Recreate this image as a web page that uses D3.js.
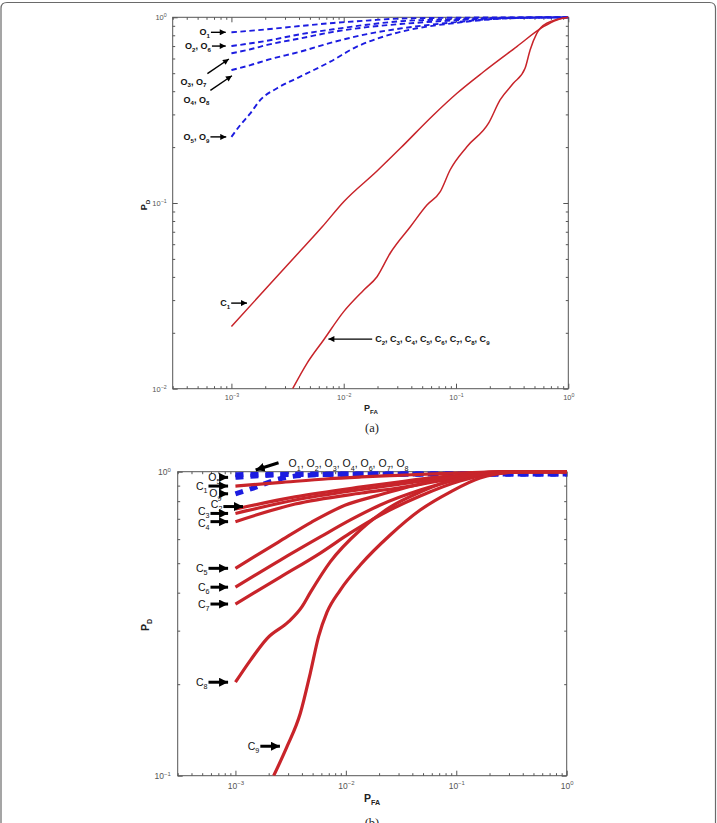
<!DOCTYPE html>
<html lang="en">
<head>
<meta charset="UTF-8">
<title>ROC curves (a) and (b)</title>
<script src="https://d3js.org/d3.v7.min.js"></script>
<style>
  body { margin: 0; background: #fff; }
  svg { font-family: Arial, "Liberation Sans", sans-serif; }
  .frame { fill: none; stroke: #6a6a6a; stroke-width: 1.2; }
  .box { fill: none; stroke: #555; stroke-width: 1; }
  .tick line { stroke: #555; }
  .caption { font-family: "Liberation Serif", "Times New Roman", serif; font-size: 12.5px; fill: #222; }
</style>
</head>
<body>
<svg id="chart" width="717" height="823"></svg>
<script>
// ---- data ----
const pfaDomain = [3e-4, 1];
const pfaTicks = [1e-3, 1e-2, 1e-1, 1];
const topPdTicks = [1e-2, 1e-1, 1];
const botPdTicks = [1e-1, 1];

// panel (a): [P_FA, P_D]
const aO1 = [[1e-3,0.83],[2.08e-3,0.862],[4.1e-3,0.898],[8.07e-3,0.932],[0.0161,0.96],[0.0319,0.985],[0.089,0.994],[0.3,0.999],[1,1]];
const aO2 = [[1e-3,0.70],[2.08e-3,0.748],[4.1e-3,0.81],[8.07e-3,0.862],[0.0161,0.912],[0.0319,0.952],[0.089,0.975],[0.3,0.996],[1,1]];
const aO3 = [[1e-3,0.64],[1.48e-3,0.673],[2.08e-3,0.71],[4.1e-3,0.77],[8.07e-3,0.835],[0.0161,0.885],[0.0319,0.92],[0.089,0.96],[0.3,0.994],[1,1]];
const aO4 = [[1e-3,0.52],[1.48e-3,0.553],[2.08e-3,0.589],[4.1e-3,0.653],[8.07e-3,0.735],[0.0161,0.812],[0.0319,0.87],[0.089,0.935],[0.3,0.99],[1,1]];
const aO5 = [[1e-3,0.227],[1.2e-3,0.263],[1.48e-3,0.305],[1.81e-3,0.359],[2.55e-3,0.415],[4.1e-3,0.479],[7.6e-3,0.577],[0.0131,0.695],[0.0226,0.787],[0.045,0.873],[0.089,0.925],[0.3,0.988],[1,1]];
const aC1 = [[1e-3,0.0216],[2.38e-3,0.0385],[3.84e-3,0.0528],[6.41e-3,0.0742],[0.01,0.1016],[0.0198,0.1487],[0.0319,0.197],[0.063,0.298],[0.102,0.39],[0.176,0.509],[0.348,0.695],[0.601,0.89],[0.792,0.967],[1,1]];
const aC2 = [[3.51e-3,0.01],[4.71e-3,0.0137],[6.62e-3,0.0183],[0.01,0.026],[0.0151,0.034],[0.0198,0.0401],[0.026,0.0538],[0.0392,0.0745],[0.0551,0.0975],[0.0724,0.115],[0.0888,0.151],[0.125,0.201],[0.195,0.269],[0.247,0.359],[0.324,0.441],[0.412,0.531],[0.457,0.667],[0.524,0.82],[0.643,0.929],[1,1]];

// panel (b)
const bO = [[1e-3,0.978],[3e-3,0.98],[0.01,0.982],[0.1,0.983],[1,0.983]];
const bO5 = [[1e-3,0.958],[1.5e-3,0.968],[2.5e-3,0.977],[5e-3,0.981],[1,0.983]];
const bO9 = [[1e-3,0.846],[1.4e-3,0.88],[2.45e-3,0.945],[4e-3,0.972],[0.01,0.981],[1,0.983]];
const bC1 = [[1e-3,0.897],[2.45e-3,0.92],[6.9e-3,0.948],[0.0138,0.961],[0.0298,0.973],[0.0714,0.986],[0.164,0.996],[0.25,1],[1,1]];
const bC2 = [[1e-3,0.754],[3.47e-3,0.826],[0.0139,0.891],[0.0298,0.925],[0.0714,0.961],[0.202,0.99],[0.378,1],[1,1]];
const bC3 = [[1e-3,0.729],[3.47e-3,0.807],[0.0139,0.874],[0.0298,0.908],[0.0714,0.95],[0.202,0.986],[0.378,1],[1,1]];
const bC4 = [[1e-3,0.685],[3.47e-3,0.783],[0.0139,0.851],[0.0298,0.884],[0.0714,0.932],[0.202,0.983],[0.4,1],[1,1]];
const bC5 = [[1e-3,0.481],[2.45e-3,0.587],[4.9e-3,0.683],[9.8e-3,0.775],[0.0196,0.836],[0.0471,0.911],[0.108,0.968],[0.225,0.998],[0.4,1],[1,1]];
const bC6 = [[1e-3,0.417],[2.55e-3,0.512],[5.87e-3,0.61],[0.011,0.694],[0.0205,0.777],[0.0471,0.87],[0.108,0.946],[0.249,0.995],[0.4,1],[1,1]];
const bC7 = [[1e-3,0.367],[2.55e-3,0.45],[5.87e-3,0.54],[0.011,0.629],[0.0205,0.72],[0.0471,0.832],[0.108,0.932],[0.249,0.99],[0.4,1],[1,1]];
const bC8 = [[1e-3,0.203],[1.37e-3,0.24],[1.94e-3,0.283],[3.03e-3,0.321],[4.01e-3,0.36],[4.76e-3,0.4],[7.22e-3,0.505],[0.0135,0.643],[0.0252,0.765],[0.0471,0.857],[0.108,0.953],[0.249,0.994],[0.45,1],[1,1]];
const bC9 = [[2.22e-3,0.1],[2.93e-3,0.1246],[3.87e-3,0.1604],[4.76e-3,0.2172],[5.66e-3,0.2866],[6.75e-3,0.345],[8.9e-3,0.408],[0.0135,0.493],[0.0252,0.619],[0.0471,0.748],[0.0879,0.857],[0.164,0.953],[0.306,0.994],[0.5,1],[1,1]];

// ---- layout ----
const svg = d3.select("#chart");
svg.append("path").attr("class", "frame")
    .attr("d", "M1,830V8.5Q1,2.5 7,2.5H709.5Q715.5,2.5 715.5,8.5V830");

const defs = svg.append("defs");
function marker(id, w, h) {
    defs.append("marker").attr("id", id).attr("viewBox", "0 0 10 10")
        .attr("refX", 10).attr("refY", 5).attr("markerUnits", "userSpaceOnUse")
        .attr("markerWidth", w).attr("markerHeight", h).attr("orient", "auto")
        .append("path").attr("d", "M0,0L10,5L0,10z").attr("fill", "#000");
}
marker("headA", 7, 6);
marker("headB", 9, 9);

// text with _x / _{xy} subscripts
function rich(text, str, size) {
    const re = /_\{([^}]*)\}|_(.)|([^_]+)/g;
    let m, low = false;
    const sub = size * 0.3;
    while ((m = re.exec(str))) {
        if (m[3] !== undefined) {
            text.append("tspan").attr("dy", low ? -sub : 0).text(m[3]);
            low = false;
        } else {
            text.append("tspan").attr("dy", low ? 0 : sub).attr("font-size", size * 0.68).text(m[1] || m[2]);
            low = true;
        }
    }
}

function expLabel(sel, size) {
    sel.selectAll(".tick text").each(function(d) {
        const e = Math.round(Math.log10(d));
        const t = d3.select(this).text("10").attr("font-size", size).attr("fill", "#555");
        t.append("tspan").attr("dy", "-0.55em").attr("font-size", size * 0.7)
            .text(e < 0 ? "\u2212" + (-e) : String(e));
    });
}

function panel(cfg) {
    const x = d3.scaleLog().domain(pfaDomain).range([cfg.left, cfg.right]);
    const y = d3.scaleLog().domain([cfg.pdTicks[0], 1]).range([cfg.bottom, cfg.top]);
    const isMajor = v => Math.abs(Math.log10(v) - Math.round(Math.log10(v))) < 1e-9;
    const minorX = x.ticks().filter(v => !isMajor(v));
    const minorY = y.ticks().filter(v => !isMajor(v));
    const g = svg.append("g");

    const axes = [
        [d3.axisBottom(x), `translate(0,${cfg.bottom})`, minorX, pfaTicks, true],
        [d3.axisTop(x), `translate(0,${cfg.top})`, minorX, pfaTicks, false],
        [d3.axisLeft(y), `translate(${cfg.left},0)`, minorY, cfg.pdTicks, true],
        [d3.axisRight(y), `translate(${cfg.right},0)`, minorY, cfg.pdTicks, false]
    ];
    axes.forEach(([ax, tr, minor, major, labelled]) => {
        g.append("g").attr("transform", tr)
            .call(ax.tickValues(minor).tickSize(-2.5).tickFormat(""))
            .call(s => s.select(".domain").remove());
        const a = g.append("g").attr("transform", tr)
            .call(ax.tickValues(major).tickSize(-5).tickPadding(cfg.pad)
                .tickFormat(labelled ? d3.format("") : ""))
            .call(s => s.select(".domain").remove());
        if (labelled) expLabel(a, cfg.tickFont);
    });
    g.append("rect").attr("class", "box")
        .attr("x", cfg.left).attr("y", cfg.top)
        .attr("width", cfg.right - cfg.left).attr("height", cfg.bottom - cfg.top);

    const clipId = "clip" + cfg.name;
    defs.append("clipPath").attr("id", clipId).append("rect")
        .attr("x", cfg.left).attr("y", cfg.top - 3)
        .attr("width", cfg.right - cfg.left).attr("height", cfg.bottom - cfg.top + 3);

    const line = d3.line().x(d => x(d[0])).y(d => y(d[1])).curve(d3.curveMonotoneX);
    const plot = g.append("g").attr("clip-path", `url(#${clipId})`);
    cfg.series.forEach(s => {
        plot.append("path").datum(s.data)
            .attr("d", line)
            .attr("fill", "none")
            .attr("stroke", s.color)
            .attr("stroke-width", s.width)
            .attr("stroke-dasharray", s.dash || null)
            .attr("stroke-linejoin", "round");
    });

    // annotations: arrow from a pixel offset to a point given in data units
    cfg.notes.forEach(n => {
        const tx = x(n.tip[0]), ty = y(n.tip[1]);
        const sx = tx + n.tail[0], sy = ty + n.tail[1];
        const len = Math.hypot(tx - sx, ty - sy);
        const k = (len - cfg.head * 0.6) / len;
        g.append("line")
            .attr("x1", sx).attr("y1", sy)
            .attr("x2", sx + (tx - sx) * k).attr("y2", sy + (ty - sy) * k)
            .attr("stroke", "#000").attr("stroke-width", cfg.arrowWidth)
            .attr("marker-end", `url(#${cfg.marker})`);
        const lab = n.lab || [0, 0];
        const anchor = n.anchor || "end";
        const t = g.append("text")
            .attr("x", sx + lab[0] + (anchor === "end" ? -1 : 3))
            .attr("y", sy + lab[1] + cfg.noteFont * 0.35)
            .attr("text-anchor", anchor)
            .attr("font-size", cfg.noteFont)
            .attr("font-weight", cfg.noteWeight)
            .attr("fill", "#111");
        rich(t, n.label, cfg.noteFont);
    });

    // axis titles
    const ylab = g.append("text")
        .attr("transform", `translate(${cfg.pdPos[0]},${cfg.pdPos[1]}) rotate(-90)`)
        .attr("text-anchor", "middle").attr("font-size", cfg.titleFont)
        .attr("font-weight", "bold").attr("fill", "#222");
    rich(ylab, "P_D", cfg.titleFont);
    const xlab = g.append("text")
        .attr("x", cfg.pfaPos[0]).attr("y", cfg.pfaPos[1])
        .attr("font-size", cfg.titleFont).attr("font-weight", "bold").attr("fill", "#222");
    rich(xlab, "P_{FA}", cfg.titleFont);
    g.append("text").attr("class", "caption")
        .attr("x", cfg.capPos[0]).attr("y", cfg.capPos[1])
        .attr("text-anchor", "middle").text(cfg.caption);
}

const red = "#c8242a", blue = "#1c1ce0";

panel({
    name: "a", left: 172.7, right: 568.3, top: 17.3, bottom: 388.7,
    pdTicks: topPdTicks, pad: 6, tickFont: 7.5,
    series: [
        { data: aO1, color: blue, width: 1.9, dash: "5.5,3.5" },
        { data: aO2, color: blue, width: 1.9, dash: "5.5,3.5" },
        { data: aO3, color: blue, width: 1.9, dash: "5.5,3.5" },
        { data: aO4, color: blue, width: 1.9, dash: "5.5,3.5" },
        { data: aO5, color: blue, width: 1.9, dash: "5.5,3.5" },
        { data: aC1, color: red, width: 1.5 },
        { data: aC2, color: red, width: 1.5 }
    ],
    notes: [
        { label: "O_1", tip: [0.97e-3, 0.83], tail: [-19, 0] },
        { label: "O_2, O_6", tip: [0.97e-3, 0.70], tail: [-18, 0] },
        { label: "O_3, O_7", tip: [1.02e-3, 0.614], tail: [-25, 17], lab: [0, 8] },
        { label: "O_4, O_8", tip: [1.085e-3, 0.499], tail: [-25, 17], lab: [0, 9] },
        { label: "O_5, O_9", tip: [0.98e-3, 0.227], tail: [-20, 0] },
        { label: "C_1", tip: [1.5e-3, 0.0289], tail: [-20, 0] },
        { label: "C_2, C_3, C_4, C_5, C_6, C_7, C_8, C_9", tip: [6.7e-3, 0.0185], tail: [48, 0], anchor: "start" }
    ],
    marker: "headA", head: 7, arrowWidth: 1.4, noteFont: 9, noteWeight: "bold",
    titleFont: 9, pdPos: [147, 205], pfaPos: [364, 411], capPos: [372, 432], caption: "(a)"
});

panel({
    name: "b", left: 177.7, right: 566.7, top: 471.7, bottom: 775.7,
    pdTicks: botPdTicks, pad: 7, tickFont: 8.5,
    series: [
        { data: bO, color: blue, width: 5, dash: "8,7" },
        { data: bO5, color: blue, width: 5, dash: "8,7" },
        { data: bO9, color: blue, width: 5, dash: "8,7" },
        { data: bC1, color: red, width: 3.2 },
        { data: bC2, color: red, width: 3.2 },
        { data: bC3, color: red, width: 3.2 },
        { data: bC4, color: red, width: 3.2 },
        { data: bC5, color: red, width: 3.2 },
        { data: bC6, color: red, width: 3.2 },
        { data: bC7, color: red, width: 3.2 },
        { data: bC8, color: red, width: 3.2 },
        { data: bC9, color: red, width: 3.2 }
    ],
    notes: [
        { label: "O_1, O_2, O_3, O_4, O_6, O_7, O_8", tip: [1.37e-3, 1.0], tail: [28, -9], anchor: "start", lab: [7, 1] },
        { label: "O_5", tip: [0.96e-3, 0.958], tail: [-12, 0] },
        { label: "C_1", tip: [0.96e-3, 0.897], tail: [-25, 0] },
        { label: "O_9", tip: [0.96e-3, 0.846], tail: [-11, 0] },
        { label: "C_2", tip: [1.31e-3, 0.768], tail: [-25, 0], lab: [0, -2] },
        { label: "C_3", tip: [0.96e-3, 0.729], tail: [-23, 0], lab: [0, -2] },
        { label: "C_4", tip: [0.96e-3, 0.685], tail: [-23, 0], lab: [0, 1.5] },
        { label: "C_5", tip: [0.96e-3, 0.481], tail: [-25, 0] },
        { label: "C_6", tip: [0.96e-3, 0.417], tail: [-23, 0] },
        { label: "C_7", tip: [0.96e-3, 0.367], tail: [-23, 0] },
        { label: "C_8", tip: [0.96e-3, 0.203], tail: [-25, 0] },
        { label: "C_9", tip: [2.83e-3, 0.125], tail: [-25, 0] }
    ],
    marker: "headB", head: 9, arrowWidth: 3, noteFont: 10.5, noteWeight: "normal",
    titleFont: 10.5, pdPos: [149, 625], pfaPos: [364, 802], capPos: [372, 827], caption: "(b)"
});
</script>
</body>
</html>
